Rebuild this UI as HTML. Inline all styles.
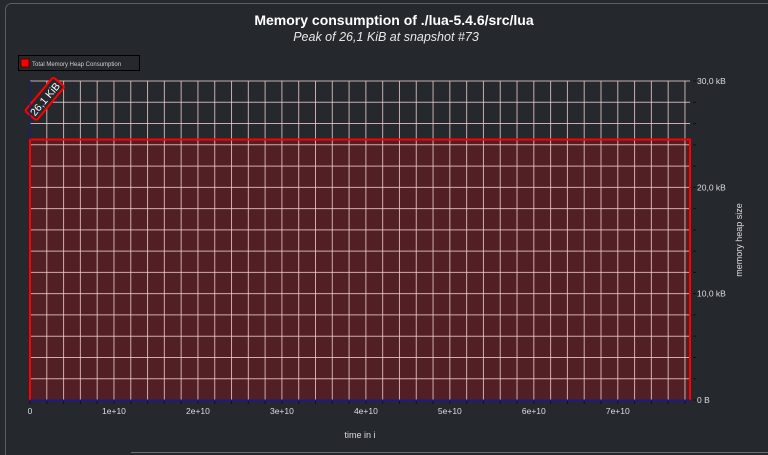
<!DOCTYPE html>
<html><head><meta charset="utf-8">
<style>
html,body{margin:0;padding:0;background:#26292e;width:768px;height:455px;overflow:hidden}
svg{display:block}
text{font-family:"Liberation Sans","DejaVu Sans",sans-serif}
</style></head>
<body>
<svg id="chart" width="768" height="455" xmlns="http://www.w3.org/2000/svg">
<rect x="5.5" y="3.5" width="780" height="470" rx="6" fill="#25282d" stroke="#5a5d62"/>
<line x1="131" y1="452.5" x2="768" y2="452.5" stroke="#6a6d72"/>
<text x="394" y="25" text-anchor="middle" fill="#fff" font-size="14" font-weight="bold">Memory consumption of ./lua-5.4.6/src/lua</text>
<text x="386" y="41" text-anchor="middle" fill="#e8e8e8" font-size="12.5" font-style="italic">Peak of 26,1 KiB at snapshot #73</text>
<g>
<rect x="18.5" y="55.5" width="121" height="15" fill="#25282d" stroke="#000"/>
<rect x="21" y="59" width="8" height="8" fill="#ff0000" stroke="#550000"/>
<text x="32" y="66" fill="#cfcfcf" font-size="6" font-family="Liberation Mono, monospace">Total Memory Heap Consumption</text>
</g>
<g id="area"></g>
<g id="grid"></g>
<g id="marks"></g>
<g id="axes"></g>
<text x="360" y="438" text-anchor="middle" fill="#ddd" font-size="9">time in i</text>
<text transform="translate(742,240) rotate(-90)" text-anchor="middle" fill="#ddd" font-size="9">memory heap size</text>
</svg>
<script>
const times = [0, 7.86e10];
const heapKB = [24.5, 24.5];
const xTickLabels = ["0","1e+10","2e+10","3e+10","4e+10","5e+10","6e+10","7e+10"];
const xTickValues = [0,1e10,2e10,3e10,4e10,5e10,6e10,7e10];
const yTickLabels = ["0 B","10,0 kB","20,0 kB","30,0 kB"];
const yTickValues = [0,10,20,30];
const peakLabel = ["26,1 KiB"];

const X0=30, X1=690, Y0=400, Y1=81, XMAX=7.86e10, YMAX=30;
const x = v => X0 + (v/XMAX)*(X1-X0);
const y = v => Y0 - (v/YMAX)*(Y0-Y1);
const NS="http://www.w3.org/2000/svg";
function mk(tag, attrs, parent){const e=document.createElementNS(NS,tag);for(const k in attrs)e.setAttribute(k,attrs[k]);parent.appendChild(e);return e;}
const areaG=document.getElementById('area'), grid=document.getElementById('grid'), marks=document.getElementById('marks'), axes=document.getElementById('axes');

const pts = times.map((t,i)=>x(t)+','+y(heapKB[i])).join(' ');
const area = mk('polygon',{points:x(times[0])+','+y(0)+' '+pts+' '+x(times[times.length-1])+','+y(0),fill:'#521f25'},areaG);



for(let v=0; v<=XMAX+1; v+=0.2e10){
  const l=mk('line',{x1:x(v),x2:x(v),y1:Y1,y2:Y0,stroke:'#f0d0d0','stroke-opacity':0.8,'stroke-width':1},grid);
  
  
}
for(let v=0; v<=YMAX; v+=2){
  const l=mk('line',{x1:X0,x2:X1,y1:y(v),y2:y(v),stroke:'#f0d0d0','stroke-opacity':0.8,'stroke-width':1},grid);
  
  
}
const ol = mk('polyline',{points:x(times[0])+','+y(0)+' '+pts+' '+x(times[times.length-1])+','+y(0),fill:'none',stroke:'#ff0000','stroke-width':2},marks);



const xa=mk('line',{x1:X0,x2:X1,y1:Y0+0.5,y2:Y0+0.5,stroke:'#1a1a8a','stroke-width':2},axes);


const ya=mk('line',{x1:X0,x2:X0,y1:Y1,y2:y(heapKB[0]),stroke:'#1a1a8a','stroke-width':1},axes);


for(let v=0; v<=XMAX+1; v+=0.2e10){
  const t=mk('line',{x1:x(v),x2:x(v),y1:Y0+1,y2:Y0+4,stroke:'#111','stroke-width':1},axes);
  
  
}
xTickValues.forEach((v,i)=>{
  const t=mk('text',{x:x(v),y:414,'text-anchor':'middle',fill:'#ddd','font-size':8.5},axes);
  t.textContent=xTickLabels[i];
  
  
});
for(let v=0; v<=YMAX; v+=2){
  const t=mk('line',{x1:X1+3,x2:X1+6,y1:y(v),y2:y(v),stroke:'#111','stroke-width':1},axes);
  
  
}
yTickValues.forEach((v,i)=>{
  const t=mk('text',{x:697,y:y(v)+3,fill:'#ddd','font-size':8.5},axes);
  t.textContent=yTickLabels[i];
  
  
});
const g=mk('g',{transform:'translate(31,116) rotate(-50)'},marks);


mk('rect',{x:0,y:-8,width:44,height:15,rx:2,fill:'#25282d',stroke:'#ff0000','stroke-width':2},g);
const pt=mk('text',{x:22,y:3.5,'text-anchor':'middle',fill:'#fff','font-size':10.5},g);
pt.textContent=peakLabel[0];


</script>
</body></html>
